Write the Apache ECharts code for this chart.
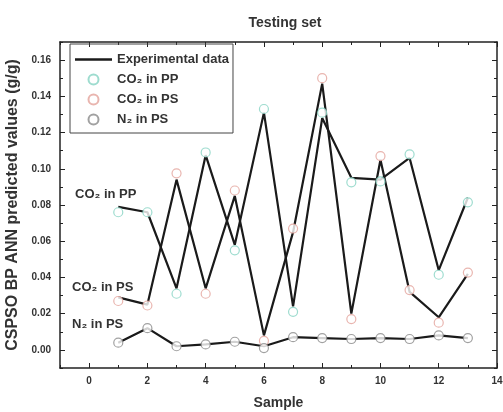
<!DOCTYPE html>
<html><head><meta charset="utf-8">
<script src="https://cdn.jsdelivr.net/npm/echarts@6/dist/echarts.min.js"></script>
<style>html,body{margin:0;padding:0;background:#fff}#c{width:503px;height:412px}</style>
</head><body><div id="c"></div>
<script>
const samples = [1,2,3,4,5,6,7,8,9,10,11,12,13];
const expCO2PP = [0.079,0.076,0.034,0.1075,0.058,0.131,0.024,0.128,0.095,0.094,0.106,0.044,0.084];
const expCO2PS = [0.029,0.025,0.094,0.034,0.085,0.008,0.065,0.147,0.020,0.105,0.032,0.018,0.042];
const expN2PS  = [0.004,0.012,0.002,0.003,0.0045,0.002,0.007,0.0065,0.006,0.0065,0.006,0.008,0.0065];
const predCO2PP = [0.076,0.076,0.031,0.109,0.055,0.133,0.021,0.131,0.0925,0.093,0.108,0.0415,0.0815];
const predCO2PS = [0.027,0.0245,0.0975,0.031,0.088,0.005,0.067,0.150,0.017,0.107,0.033,0.015,0.0427];
const predN2PS  = [0.004,0.012,0.002,0.003,0.0045,0.001,0.007,0.0065,0.006,0.0065,0.006,0.008,0.0065];
const xMajor = [0,2,4,6,8,10,12,14];
const xMinor = [-1,1,3,5,7,9,11,13];
const yMajor = [0,0.02,0.04,0.06,0.08,0.10,0.12,0.14,0.16];
const yMinor = [-0.01,0.01,0.03,0.05,0.07,0.09,0.11,0.13,0.15,0.17];

const FONT = 'Liberation Sans';
const pair = (xs, ys) => xs.map((x,i)=>[x, ys[i]]);
const C_PP = '#86d3c3', C_PS = '#e3a39b', C_N2 = '#8a8a8a';

function xAx(pos, vals, len, showLine, showLabel){
  return {type:'value', position:pos, min:-1, max:14, interval:1,
    axisLine:{show:showLine, onZero:false, lineStyle:{color:'#222', width:1.5}},
    axisTick:{show:true, inside:true, length:len, customValues:vals, lineStyle:{color:'#222', width:1}},
    axisLabel:{show:showLabel, customValues:xMajor, color:'#333', fontFamily:FONT, fontWeight:'bold', fontSize:10, margin:8},
    splitLine:{show:false}};
}
function yAx(pos, vals, len, showLine, showLabel){
  return {type:'value', position:pos, min:-0.01, max:0.17, interval:0.01,
    axisLine:{show:showLine, onZero:false, lineStyle:{color:'#222', width:1.5}},
    axisTick:{show:true, inside:true, length:len, customValues:vals, lineStyle:{color:'#222', width:1}},
    axisLabel:{show:showLabel, customValues:yMajor, color:'#333', fontFamily:FONT, fontWeight:'bold', fontSize:10, margin:9,
      formatter:v=>v.toFixed(2)},
    splitLine:{show:false}};
}
const xAxes = [xAx('bottom', xMajor, 5, true, true), xAx('bottom', xMinor, 3, false, false),
               xAx('top', xMajor, 5, true, false), xAx('top', xMinor, 3, false, false)];
xAxes[0].name = 'Sample'; xAxes[0].nameLocation='middle'; xAxes[0].nameGap=28;
xAxes[0].nameTextStyle = {fontFamily:FONT, fontWeight:'bold', fontSize:14, color:'#333'};
const yAxes = [yAx('left', yMajor, 5, true, true), yAx('left', yMinor, 3, false, false),
               yAx('right', yMajor, 5, true, false), yAx('right', yMinor, 3, false, false)];
yAxes[0].name = 'CSPSO BP ANN predicted values (g/g)'; yAxes[0].nameLocation='middle'; yAxes[0].nameGap=29;
yAxes[0].nameTextStyle = {fontFamily:FONT, fontWeight:'bold', fontSize:16, color:'#333'};

const expLine = (d) => ({name:'Experimental data', type:'line', data:pair(samples,d), symbol:'none',
  lineStyle:{color:'#1a1a1a', width:2.2}, itemStyle:{color:'#1a1a1a'}, z:2, animation:false});
const pred = (name, d, col) => ({name, type:'scatter', data:pair(samples,d), symbol:'circle', symbolSize:9,
  itemStyle:{color:'#fff', borderColor:col, borderWidth:1.2}, z:3, animation:false});

const LBL = 'bold 13px "Liberation Sans"';
const chart = echarts.init(document.getElementById('c'));
chart.setOption({
  animation:false,
  title:{text:'Testing set', left:280, textAlign:'center', top:11,
    textStyle:{fontFamily:FONT, fontWeight:'bold', fontSize:14, color:'#333'}},
  grid:{left:60, right:6, top:42, bottom:44, outerBoundsMode:'none', containLabel:false},
  xAxis:xAxes, yAxis:yAxes,
  legend:{orient:'vertical', left:70, top:44, padding:[9,4,7,5], itemGap:7, itemWidth:37, itemHeight:10,
    borderColor:'#444', borderWidth:1,
    data:[{name:'Experimental data', icon:'path://M0,0 L37,0 L37,2.5 L0,2.5 Z'},'CO₂ in PP','CO₂ in PS','N₂ in PS'],
    textStyle:{fontFamily:FONT, fontWeight:'bold', fontSize:13, color:'#333'}},
  graphic:[
    {type:'text', left:75, top:188, style:{text:'CO₂ in PP', font:LBL, fill:'#333'}},
    {type:'text', left:72, top:281, style:{text:'CO₂ in PS', font:LBL, fill:'#333'}},
    {type:'text', left:72, top:318, style:{text:'N₂ in PS', font:LBL, fill:'#333'}}
  ],
  series:[expLine(expCO2PP), expLine(expCO2PS), expLine(expN2PS),
    pred('CO₂ in PP', predCO2PP, C_PP), pred('CO₂ in PS', predCO2PS, C_PS), pred('N₂ in PS', predN2PS, C_N2)]
});
</script></body></html>
